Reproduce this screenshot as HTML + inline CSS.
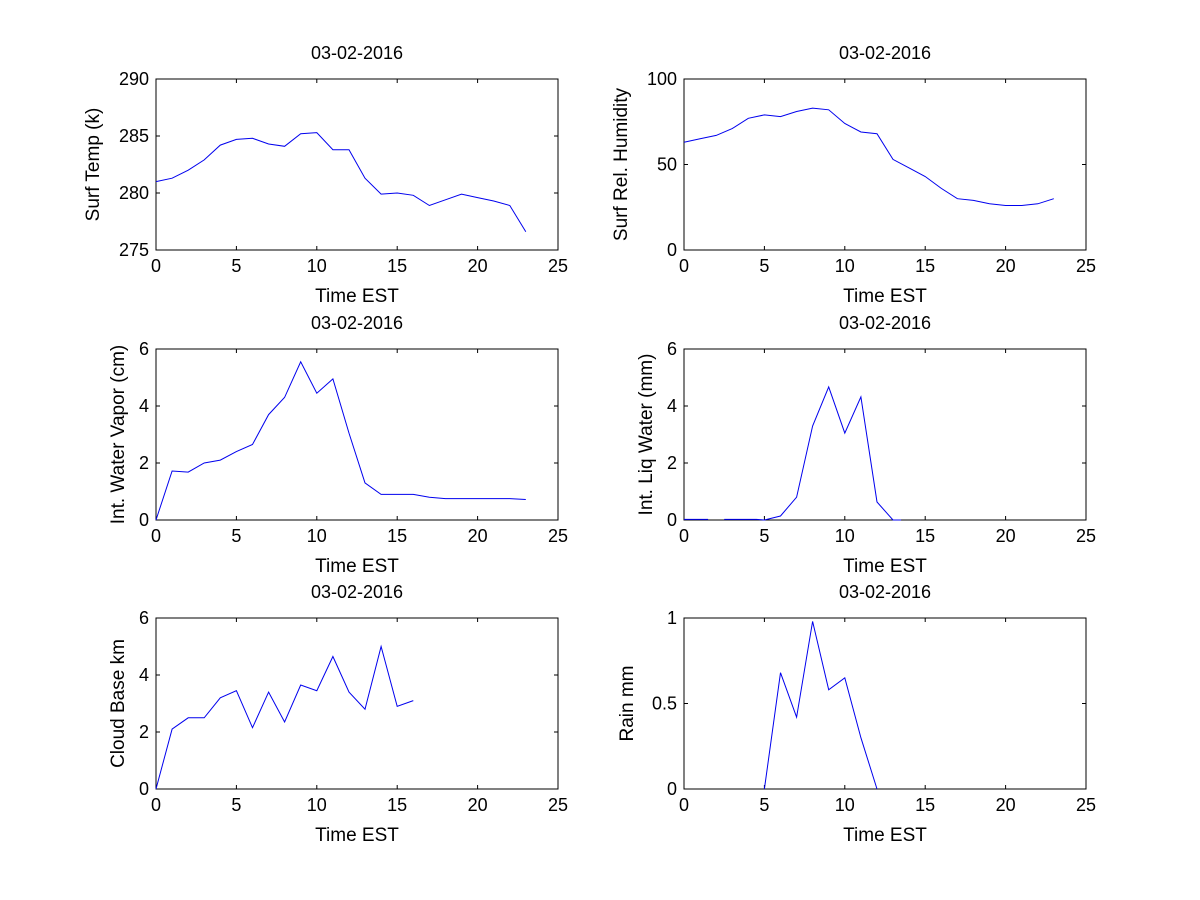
<!DOCTYPE html>
<html><head><meta charset="utf-8"><style>
body{margin:0;background:#fff}
svg{display:block;font-family:"Liberation Sans",Arial,sans-serif}
</style></head><body>
<svg id="fig" width="1200" height="900"></svg>
<script>
const hours = [0,1,2,3,4,5,6,7,8,9,10,11,12,13,14,15,16,17,18,19,20,21,22,23];
const tempVals = [281,281.3,282,282.9,284.2,284.7,284.8,284.3,284.1,285.2,285.3,283.8,283.8,281.3,279.9,280,279.8,278.9,279.4,279.9,279.6,279.3,278.9,276.6];
const humVals = [63,65,67,71,77,79,78,81,83,82,74,69,68,53,48,43,36,30,29,27,26,26,27,30];
const iwvVals = [0,1.72,1.68,2.0,2.1,2.4,2.65,3.7,4.3,5.55,4.45,4.95,3.05,1.3,0.9,0.9,0.9,0.8,0.75,0.75,0.75,0.75,0.75,0.72];
const liqHours = [0,1,1.5,2,2.5,3,4,4.5,5,6,7,8,9,10,11,12,13,13.5];
const liqVals = [0.02,0.02,0.02,null,0.02,0.02,0.02,0.02,0,0.14,0.8,3.3,4.67,3.05,4.32,0.63,0,0];
const cloudHours = [0,1,2,3,4,5,6,7,8,9,10,11,12,13,14,15,16];
const cloudVals = [0,2.1,2.5,2.5,3.2,3.45,2.15,3.4,2.35,3.65,3.45,4.65,3.4,2.8,5.0,2.9,3.1];
const rainHours = [5,6,7,8,9,10,11,12];
const rainVals = [0,0.68,0.42,0.98,0.58,0.65,0.3,0];
const xTicks = [0,5,10,15,20,25];

const panels = [
 {name:'surf-temp',l:156,t:79,ylab:'Surf Temp (k)',ymin:275,ymax:290,yt:[275,280,285,290],x:hours,y:tempVals,yo:57},
 {name:'surf-humidity',l:684,t:79,ylab:'Surf Rel. Humidity',ymin:0,ymax:100,yt:[0,50,100],x:hours,y:humVals,yo:57},
 {name:'water-vapor',l:156,t:349,ylab:'Int. Water Vapor (cm)',ymin:0,ymax:6,yt:[0,2,4,6],x:hours,y:iwvVals,yo:32},
 {name:'liq-water',l:684,t:349,ylab:'Int. Liq Water (mm)',ymin:0,ymax:6,yt:[0,2,4,6],x:liqHours,y:liqVals,yo:32},
 {name:'cloud-base',l:156,t:618,ylab:'Cloud Base km',ymin:0,ymax:6,yt:[0,2,4,6],x:cloudHours,y:cloudVals,yo:32},
 {name:'rain',l:684,t:618,ylab:'Rain mm',ymin:0,ymax:1,yt:[0,0.5,1],x:rainHours,y:rainVals,yo:51}
];
const W=402,H=171,NS='http://www.w3.org/2000/svg';
const fig=document.getElementById('fig');
function mk(tag,attrs,parent,text){const e=document.createElementNS(NS,tag);for(const k in attrs)e.setAttribute(k,attrs[k]);if(text!==undefined)e.textContent=text;parent.appendChild(e);return e;}
panels.forEach(p=>{
  const g=mk('g',{},fig);
  
  
  const sx=v=>p.l+v/25*W, sy=v=>p.t+H-(v-p.ymin)/(p.ymax-p.ymin)*H;
  const r=mk('rect',{x:p.l,y:p.t,width:W,height:H,fill:'#fff',stroke:'#000','stroke-width':1},g);
  
  
  xTicks.forEach(v=>{const x=sx(v);
    mk('line',{x1:x,x2:x,y1:p.t+H,y2:p.t+H-4,stroke:'#000'},g);
    mk('line',{x1:x,x2:x,y1:p.t,y2:p.t+4,stroke:'#000'},g);
    const t=mk('text',{x:x,y:p.t+H+22,'font-size':18,'text-anchor':'middle'},g,v);
    
    
  });
  p.yt.forEach(v=>{const y=sy(v);
    mk('line',{x1:p.l,x2:p.l+4,y1:y,y2:y,stroke:'#000'},g);
    mk('line',{x1:p.l+W,x2:p.l+W-4,y1:y,y2:y,stroke:'#000'},g);
    const t=mk('text',{x:p.l-7,y:y+6,'font-size':18,'text-anchor':'end'},g,v);
    
    
  });
  const ti=mk('text',{x:p.l+W/2,y:p.t-20,'font-size':18,'text-anchor':'middle'},g,'03-02-2016');
  
  
  const xl=mk('text',{x:p.l+W/2,y:p.t+H+52,'font-size':19,'text-anchor':'middle'},g,'Time EST');
  
  
  const ymid=p.t+H/2, yx=p.l-p.yo;
  const yl=mk('text',{x:yx,y:ymid,'font-size':19,'text-anchor':'middle',transform:`rotate(-90 ${yx} ${ymid})`},g,p.ylab);
  
  
  let d='',pen=false;
  p.x.forEach((xv,i)=>{const yv=p.y[i];if(yv===null){pen=false;return;}
    d+=(pen?'L':'M')+sx(xv).toFixed(1)+' '+sy(yv).toFixed(1)+' ';pen=true;});
  const path=mk('path',{d:d,fill:'none',stroke:'#0000ee','stroke-width':1},g);
  
  
});
</script>
</body></html>
